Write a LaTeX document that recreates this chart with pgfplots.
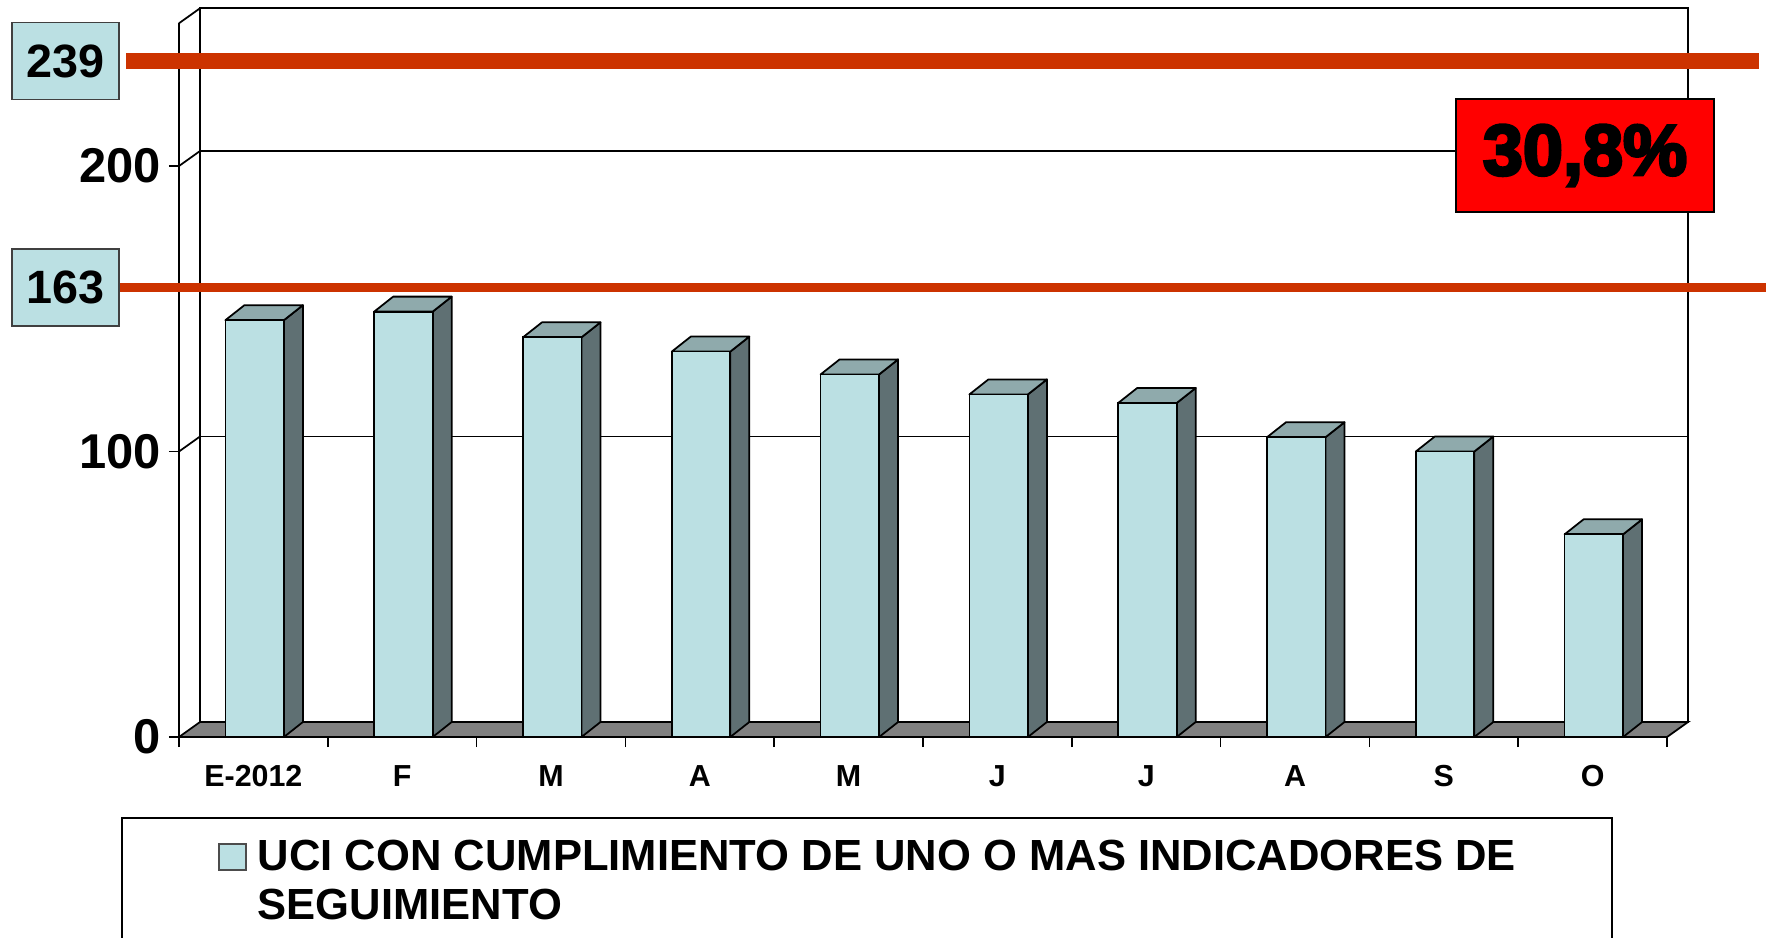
\documentclass[border=0pt]{standalone}
\usepackage{fontspec}
\setmainfont{Liberation Sans}
\newfontfamily\heavyfont{Liberation Sans}[BoldFeatures={FakeBold=4}]
\usepackage{pgfplots}
\pgfplotsset{compat=1.18}
\usepackage{pgfplotstable}
\definecolor{frontcol}{RGB}{187,224,227}
\definecolor{sidecol}{RGB}{95,112,115}
\definecolor{topcol}{RGB}{143,170,172}
\definecolor{floorcol}{RGB}{128,128,128}
\definecolor{linered}{RGB}{204,51,0}
\pgfplotstableread{
x v
0.5 146
1.5 149
2.5 140
3.5 135
4.5 127
5.5 120
6.5 117
7.5 105
8.5 100
9.5 71
}\bardata
\begin{document}
\begin{tikzpicture}
\useasboundingbox (0,0) rectangle (17.69cm,9.37cm);
% back wall
\begin{axis}[
  at={(2.00cm,2.15cm)}, anchor=origin,
  x=1.488cm, y=0.02855cm,
  xmin=0, xmax=10, ymin=0, ymax=250,
  axis line style={black, line width=0.5pt},
  xtick=\empty, ytick={100,200}, yticklabels={},
  ymajorgrids, grid style={black, line width=0.5pt},
  major tick length=0pt,
  clip=false,
]
\addplot[draw=none, forget plot] coordinates {(0,0) (10,0)};
\end{axis}
% front plane
\begin{axis}[
  at={(1.79cm,2.00cm)}, anchor=origin,
  x=1.488cm, y=0.02855cm,
  xmin=0, xmax=10, ymin=0, ymax=250,
  axis x line*=bottom, axis y line*=left,
  axis line style={black, line width=0.5pt},
  tick style={black, line width=0.5pt},
  major tick length=0.1cm, tick align=outside,
  xtick={0,...,10}, xticklabels={},
  extra x ticks={0.5,1.5,...,9.5},
  extra x tick labels={E-2012,F,M,A,M,J,J,A,S,O},
  extra x tick style={major tick length=0pt,
    xticklabel style={font=\fontsize{8.65pt}{10pt}\selectfont\bfseries, inner sep=0pt, anchor=north, yshift=-0.28cm}},
  ytick={0,100,200},
  yticklabel style={font=\fontsize{13.9pt}{16pt}\selectfont\bfseries, inner sep=0pt, anchor=east, xshift=-0.077cm},
  /pgf/number format/assume math mode=true,
  clip=false,
  legend style={at={(-0.039,-0.112)}, anchor=north west, draw=black, line width=0.6pt,
    inner xsep=0.96cm, inner ysep=0.22cm, column sep=0.11cm,
    font=\fontsize{12.4pt}{13.9pt}\selectfont\bfseries,
    nodes={inner sep=0pt, text depth=0pt},
    cells={align=left}},
]
% floor
\addplot[fill=floorcol, draw=black, line width=0.5pt, forget plot]
  coordinates {(0,0) (10,0) (10.1411,5.254) (0.1411,5.254) (0,0)};
% bars as prisms
\addplot[scatter, only marks, mark=*, mark size=0pt, forget plot,
  visualization depends on={rawy \as \ry},
  scatter/@pre marker code/.code={%
    \pgfmathsetmacro{\hh}{\ry*0.02855}%
    \path[fill=sidecol, draw=black, line width=0.5pt, line join=round]
      (0.305cm,0cm) -- (0.305cm,-\hh cm) -- (0.495cm,-\hh cm+0.15cm) -- (0.495cm,0.15cm) -- cycle;
    \path[fill=topcol, draw=black, line width=0.5pt, line join=round]
      (-0.28cm,0cm) -- (0.305cm,0cm) -- (0.495cm,0.15cm) -- (-0.09cm,0.15cm) -- cycle;
    \path[fill=frontcol, draw=black, line width=0.5pt]
      (-0.28cm,0cm) rectangle (0.305cm,-\hh cm);
  },
  scatter/@post marker code/.code={},
] table[x=x, y=v] {\bardata};
% connectors front axis -> back wall
\pgfplotsinvokeforeach{100,200,250}{
  \draw[black, line width=0.5pt] (axis cs:0,#1) -- ++(0.21cm,0.15cm);
}
% reference lines
\addplot[linered, line width=0.16cm, forget plot] coordinates {(-0.356,236.8) (10.618,236.8)};
\addplot[linered, line width=0.09cm, forget plot] coordinates {(-0.403,157.4) (10.665,157.4)};
\node[fill=frontcol, draw=black!75, line width=0.5pt, minimum width=1.07cm, minimum height=0.77cm, inner sep=0pt,
  font=\fontsize{13.3pt}{15pt}\selectfont\bfseries] at (axis cs:-0.763,236.8) {239};
\node[fill=frontcol, draw=black!75, line width=0.5pt, minimum width=1.07cm, minimum height=0.77cm, inner sep=0pt,
  font=\fontsize{13.3pt}{15pt}\selectfont\bfseries] at (axis cs:-0.763,157.4) {163};
\node[fill=red, draw=black, line width=0.6pt, minimum width=2.58cm, minimum height=1.13cm, inner sep=0pt,
  font=\heavyfont\fontsize{20.5pt}{24pt}\selectfont\bfseries] at (axis cs:9.449,203.7) {30,8\%};
\addlegendimage{legend image code/.code={\draw[fill=frontcol, draw=black!70, line width=0.5pt] (0cm,0.10cm) rectangle (0.27cm,0.36cm);}}
\addlegendentry{UCI CON CUMPLIMIENTO DE UNO O MAS INDICADORES DE\\SEGUIMIENTO}
\end{axis}
\end{tikzpicture}
\end{document}
